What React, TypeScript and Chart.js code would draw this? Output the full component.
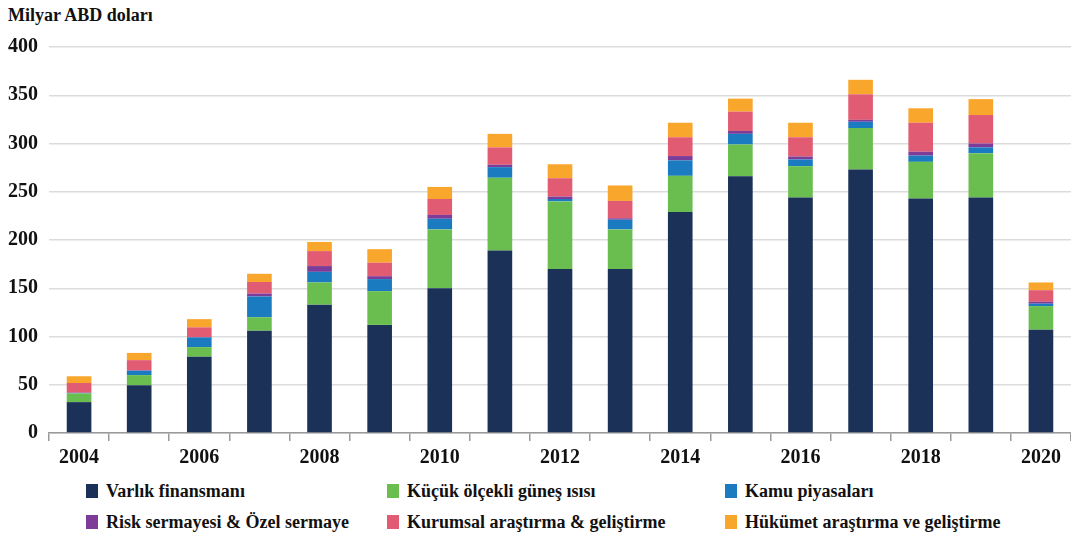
import React, { useEffect, useRef } from "react";
import { Chart, registerables } from "chart.js";

Chart.register(...registerables);

const years = ["2004","2005","2006","2007","2008","2009","2010","2011","2012","2013","2014","2015","2016","2017","2018","2019","2020"];
const assetFinance = [32, 49.5, 79, 106, 133, 112, 150, 189, 170, 170, 229, 266, 244, 273, 243, 244, 107];
const smallSolar = [9, 10.5, 10, 14, 23, 35, 61, 75.5, 70, 41, 37.5, 33, 32.5, 43, 38, 46, 24.5];
const publicMarkets = [0.5, 4.5, 10, 21.5, 11, 12.5, 11, 11, 2.5, 10, 16, 11, 7, 6.5, 6.5, 6, 2.5];
const ventureCapital = [0.3, 0.5, 0.5, 3, 6, 3, 4, 2.5, 2.5, 1.5, 4.5, 3, 3, 2, 4, 4, 2];
const corporateRD = [10, 10.5, 10, 12, 15.5, 14, 16.5, 18, 19, 18, 19.5, 20, 20, 26.5, 30, 29.5, 12];
const governmentRD = [7, 7.5, 8.5, 8.5, 9.5, 14, 12.5, 14, 14.5, 16, 15, 13.5, 15, 15, 15, 16.5, 8];

const seriesNames = [
  "Varlık finansmanı",
  "Küçük ölçekli güneş ısısı",
  "Kamu piyasaları",
  "Risk sermayesi & Özel sermaye",
  "Kurumsal araştırma & geliştirme",
  "Hükümet araştırma ve geliştirme",
];
const seriesColors = ["#1b3158", "#6abd4f", "#1a7bc0", "#7d3c98", "#e15b72", "#f9a62c"];
const seriesData = [assetFinance, smallSolar, publicMarkets, ventureCapital, corporateRD, governmentRD];

const yTitle = "Milyar ABD doları";
const FONT = "'Liberation Serif', 'DejaVu Serif', serif";

const CANVAS_W = 1071;
const CANVAS_H = 472;
const PLOT_LEFT = 49;
const PLOT_TOP = 47;
const PLOT_BOTTOM = 433;

export default function App() {
  const ref = useRef<HTMLCanvasElement | null>(null);

  useEffect(() => {
    if (!ref.current) return;
    const chart = new Chart(ref.current, {
      type: "bar",
      data: {
        labels: years,
        datasets: seriesData.map((d, i) => ({
          label: seriesNames[i],
          data: d,
          backgroundColor: seriesColors[i],
          borderWidth: 0,
          barPercentage: 0.41,
          categoryPercentage: 1,
        })),
      },
      options: {
        responsive: false,
        animation: false,
        devicePixelRatio: 1,
        layout: { padding: { top: PLOT_TOP, left: 0, right: 0, bottom: 0 } },
        plugins: {
          legend: { display: false },
          tooltip: { enabled: false },
          title: { display: false },
        },
        scales: {
          x: {
            stacked: true,
            offset: true,
            grid: {
              offset: true,
              drawOnChartArea: false,
              drawTicks: true,
              tickLength: 8,
              color: "#9a9a9a",
              lineWidth: 1.5,
            },
            border: { display: true, color: "#9a9a9a", width: 1.5 },
            ticks: {
              autoSkip: false,
              maxRotation: 0,
              padding: 5,
              color: "#111",
              font: { family: FONT, size: 20, weight: "bold" },
              callback: function (_v: any, idx: number) {
                const y = parseInt(years[idx], 10);
                return y % 2 === 0 ? years[idx] : "";
              },
            },
            afterFit: (scale: any) => {
              scale.height = CANVAS_H - PLOT_BOTTOM;
            },
          },
          y: {
            stacked: true,
            min: 0,
            max: 400,
            grid: { color: "#dcdcdc", lineWidth: 1.5, drawTicks: false },
            border: { display: false },
            ticks: {
              stepSize: 50,
              padding: 11,
              color: "#111",
              font: { family: FONT, size: 20, weight: "bold" },
            },
            afterFit: (scale: any) => {
              scale.width = PLOT_LEFT;
            },
          },
        },
      },
    } as any);
    return () => chart.destroy();
  }, []);

  const legendCols = [86, 387, 725];
  const legendRows = [491, 522];

  return (
    <div
      style={{
        position: "absolute",
        left: 0,
        top: 0,
        width: 1071,
        height: 543,
        background: "#fff",
        fontFamily: FONT,
        color: "#111",
        overflow: "hidden",
      }}
    >
      <div
        style={{
          position: "absolute",
          left: 8,
          top: 3,
          fontSize: 18,
          fontWeight: "bold",
          lineHeight: "24px",
          whiteSpace: "nowrap",
        }}
      >
        {yTitle}
      </div>
      <canvas
        ref={ref}
        width={CANVAS_W}
        height={CANVAS_H}
        style={{ position: "absolute", left: 0, top: 0, width: CANVAS_W, height: CANVAS_H }}
      />
      {seriesNames.map((name, i) => {
        const col = i % 3;
        const row = Math.floor(i / 3);
        const x = legendCols[col];
        const cy = legendRows[row];
        return (
          <div
            key={name}
            style={{
              position: "absolute",
              left: x,
              top: cy - 12,
              height: 24,
              display: "flex",
              alignItems: "center",
              whiteSpace: "nowrap",
              fontSize: 18,
              fontWeight: "bold",
            }}
          >
            <span
              style={{
                display: "inline-block",
                width: 12,
                height: 14,
                background: seriesColors[i],
                marginRight: 8,
              }}
            />
            <span>{name}</span>
          </div>
        );
      })}
    </div>
  );
}
